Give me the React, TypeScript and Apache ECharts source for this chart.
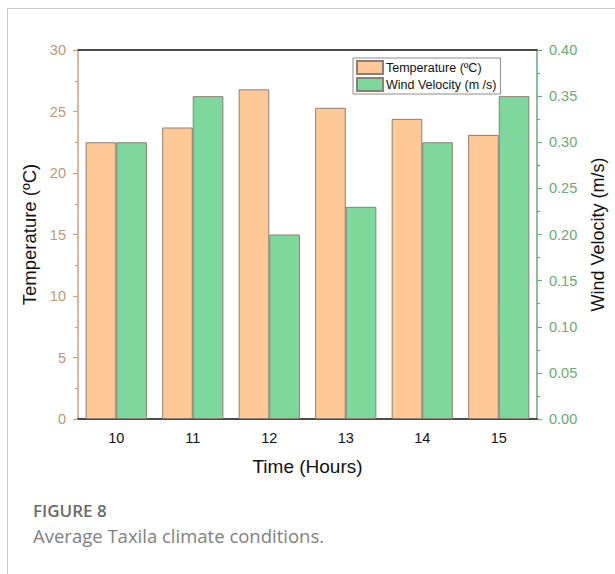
import React, { useEffect, useRef } from "react";
import * as echarts from "echarts";

const hours = ["10", "11", "12", "13", "14", "15"];
const temperature = [22.5, 23.7, 26.8, 25.3, 24.4, 23.1];
const windVelocity = [0.3, 0.35, 0.2, 0.23, 0.3, 0.35];
const tempTicks = { min: 0, max: 30, interval: 5 };
const windTicks = { min: 0, max: 0.4, interval: 0.05 };

const FONT = "'Liberation Sans', Arial, sans-serif";
const TAN = "#C9A07E";
const TAN_TEXT = "#C29672";
const GREEN = "#6DA67A";
const GREEN_TEXT = "#6BA878";
const ORANGE_FILL = "#FEC996";
const GREEN_FILL = "#7ED89C";
const BAR_BORDER = "#8A7F74";

export default function App() {
  const ref = useRef<HTMLDivElement>(null);
  useEffect(() => {
    document.body.style.margin = "0";
    const chart = echarts.init(ref.current!, null, { renderer: "svg" });
    const hiddenCat = {
      type: "category" as const,
      data: hours,
      axisLabel: { show: false },
      splitLine: { show: false },
    };
    chart.setOption({
      animation: false,
      backgroundColor: "#ffffff",
      grid: { left: 78, right: 78, top: 50, bottom: 155 },
      legend: {
        left: 353,
        top: 58,
        orient: "vertical",
        icon: "rect",
        itemWidth: 26,
        itemHeight: 13,
        itemGap: 2,
        padding: [2, 4, 2, 3],
        borderColor: "#8c8c8c",
        borderWidth: 1,
        borderRadius: 0,
        textStyle: { fontFamily: FONT, fontSize: 12.5, color: "#111", padding: [0, 0, 0, -2] },
        data: ["Temperature (ºC)", "Wind Velocity (m /s)"],
      },
      xAxis: [
        {
          type: "category",
          data: hours,
          position: "bottom",
          name: "Time (Hours)",
          nameLocation: "middle",
          nameGap: 38,
          nameTextStyle: { fontFamily: FONT, fontSize: 19, color: "#111" },
          axisLine: { lineStyle: { color: "#111", width: 1.5 } },
          axisTick: { alignWithLabel: true, length: 5, lineStyle: { color: "#111", width: 1.5 } },
          axisLabel: { fontFamily: FONT, fontSize: 14.5, color: "#111", margin: 11 },
        },
        {
          ...hiddenCat,
          position: "bottom",
          axisLine: { show: false },
          axisTick: { length: 3, lineStyle: { color: "#111", width: 1.5 } },
        },
        {
          ...hiddenCat,
          position: "top",
          axisLine: { lineStyle: { color: "#111", width: 1.5 } },
          axisTick: { alignWithLabel: true, inside: true, length: 5, lineStyle: { color: "#111", width: 1.5 } },
        },
        {
          ...hiddenCat,
          position: "top",
          axisLine: { show: false },
          axisTick: { inside: true, length: 3, lineStyle: { color: "#111", width: 1.5 } },
        },
      ],
      yAxis: [
        {
          type: "value",
          position: "left",
          ...tempTicks,
          name: "Temperature (ºC)",
          nameLocation: "middle",
          nameRotate: 90,
          nameGap: 36,
          nameTextStyle: { fontFamily: FONT, fontSize: 18.5, color: "#111" },
          axisLine: { show: true, lineStyle: { color: TAN, width: 1.5 } },
          axisTick: { show: true, length: 5, lineStyle: { color: TAN, width: 1.2 } },
          minorTick: { show: true, splitNumber: 2, length: 3, lineStyle: { color: TAN, width: 1.2 } },
          axisLabel: { fontFamily: FONT, fontSize: 14.5, color: TAN_TEXT, margin: 12 },
          splitLine: { show: false },
        },
        {
          type: "value",
          position: "right",
          ...windTicks,
          name: "Wind Velocity (m/s)",
          nameLocation: "middle",
          nameRotate: 90,
          nameGap: 52,
          nameTextStyle: { fontFamily: FONT, fontSize: 18, color: "#111", verticalAlign: "top" },
          axisLine: { show: true, lineStyle: { color: GREEN, width: 1.5 } },
          axisTick: { show: true, length: 5, lineStyle: { color: GREEN, width: 1.2 } },
          minorTick: { show: true, splitNumber: 2, length: 3, lineStyle: { color: GREEN, width: 1.2 } },
          axisLabel: {
            fontFamily: FONT,
            fontSize: 14.5,
            color: GREEN_TEXT,
            margin: 12,
            formatter: (v: number) => v.toFixed(2),
          },
          splitLine: { show: false },
        },
      ],
      series: [
        {
          name: "Temperature (ºC)",
          type: "bar",
          xAxisIndex: 0,
          yAxisIndex: 0,
          data: temperature,
          barGap: "0%",
          barCategoryGap: "20%",
          itemStyle: { color: ORANGE_FILL, borderColor: BAR_BORDER, borderWidth: 1 },
        },
        {
          name: "Wind Velocity (m /s)",
          type: "bar",
          xAxisIndex: 0,
          yAxisIndex: 1,
          data: windVelocity,
          barGap: "0%",
          barCategoryGap: "20%",
          itemStyle: { color: GREEN_FILL, borderColor: BAR_BORDER, borderWidth: 1 },
        },
      ],
      graphic: [
        { type: "line", shape: { x1: 7, y1: 8.5, x2: 615, y2: 8.5 }, style: { stroke: "#c8c8c8", lineWidth: 1 } },
        { type: "line", shape: { x1: 7.5, y1: 8, x2: 7.5, y2: 574 }, style: { stroke: "#c8c8c8", lineWidth: 1 } },
        {
          type: "text",
          left: 33,
          top: 502,
          style: { text: "FIGURE 8", font: "600 17px 'Open Sans', sans-serif", fill: "#6a6a6a" },
        },
        {
          type: "text",
          left: 33,
          top: 526,
          style: { text: "Average Taxila climate conditions.", font: "400 18.5px 'Open Sans', sans-serif", fill: "#808080" },
        },
      ],
    });
    return () => chart.dispose();
  }, []);
  return <div ref={ref} style={{ width: 615, height: 574 }} />;
}
